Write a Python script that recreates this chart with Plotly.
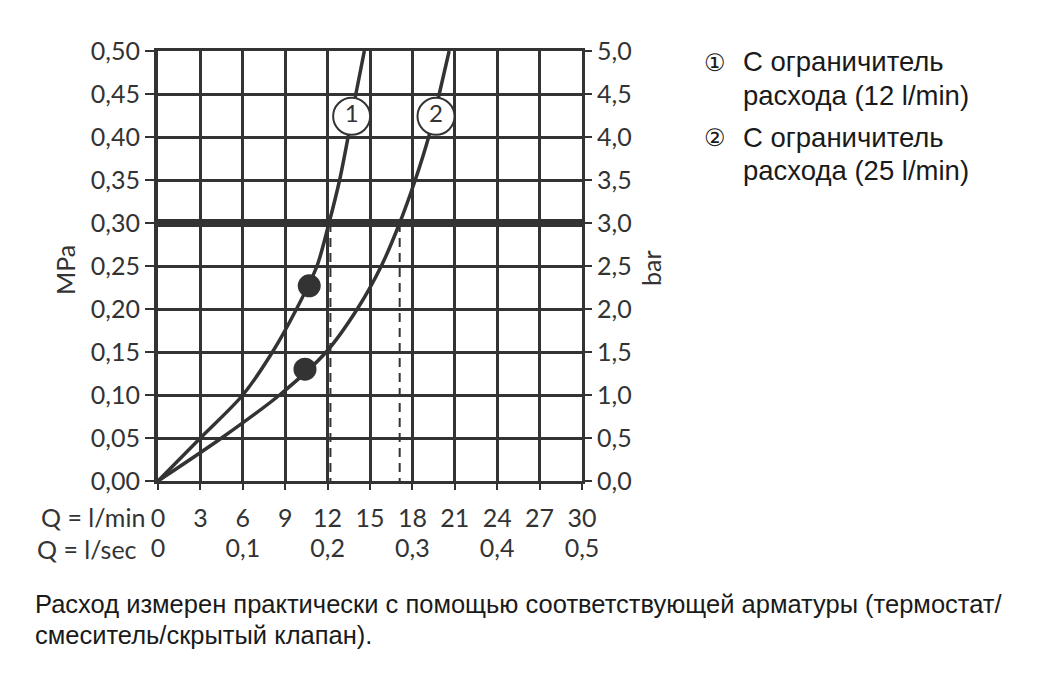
import plotly.graph_objects as go

# Flow rate (l/min) versus flow pressure (MPa) for the two flow limiters
pressure = [0.00, 0.05, 0.10, 0.15, 0.20, 0.25, 0.30, 0.35, 0.40, 0.45, 0.50]
flow_12 = [0.0, 3.0, 6.0, 8.1, 9.8, 11.25, 12.1, 12.85, 13.45, 14.0, 14.6]
flow_25 = [0.0, 4.5, 8.6, 11.9, 14.1, 15.8, 17.1, 18.2, 19.15, 19.9, 20.6]

# Minimum flow pressure points
dot_flow = [10.7, 10.4]
dot_pressure = [0.227, 0.130]

# Curve labels
label_text = ["1", "2"]
label_flow = [13.7, 19.67]
label_pressure = [0.424, 0.424]

# Reference pressure and flow at that pressure
ref_pressure = 0.30
ref_flow = [12.2, 17.1]

# Axis ticks
lmin_vals = [0, 3, 6, 9, 12, 15, 18, 21, 24, 27, 30]
lmin_text = ["0", "3", "6", "9", "12", "15", "18", "21", "24", "27", "30"]
lsec_vals = [0, 0.1, 0.2, 0.3, 0.4, 0.5]
lsec_text = ["0", "0,1", "0,2", "0,3", "0,4", "0,5"]
mpa_vals = [0.00, 0.05, 0.10, 0.15, 0.20, 0.25, 0.30, 0.35, 0.40, 0.45, 0.50]
mpa_text = ["0,00", "0,05", "0,10", "0,15", "0,20", "0,25", "0,30", "0,35", "0,40", "0,45", "0,50"]
bar_vals = [0.0, 0.5, 1.0, 1.5, 2.0, 2.5, 3.0, 3.5, 4.0, 4.5, 5.0]
bar_text = ["0,0", "0,5", "1,0", "1,5", "2,0", "2,5", "3,0", "3,5", "4,0", "4,5", "5,0"]

legend_rows = [
    ("\u2460", "С ограничитель", "расхода (12 l/min)"),
    ("\u2461", "С ограничитель", "расхода (25 l/min)"),
]
footer_lines = [
    "Расход измерен практически с помощью соответствующей арматуры (термостат/",
    "смеситель/скрытый клапан).",
]

W, H = 1059, 675
L, R, T, B = 158, 582, 51, 481
INK = "#333333"
TICK_FONT = dict(family="Lato", size=25, color=INK)
TEXT_FONT = dict(family="Liberation Sans", size=27.5, color="#1a1a1a")


def px(x):
    return (x - L) / (R - L)


def py(y):
    return (B - y) / (B - T)


fig = go.Figure()

# Bold reference line at 0.30 MPa
fig.add_trace(go.Scatter(
    x=[lmin_vals[0], lmin_vals[-1]], y=[ref_pressure, ref_pressure],
    mode="lines", line=dict(color=INK, width=8), hoverinfo="skip"))

# Dashed drops from the reference line to the flow axis
for q in ref_flow:
    fig.add_trace(go.Scatter(
        x=[q, q], y=[ref_pressure, 0], mode="lines",
        line=dict(color=INK, width=2, dash="9px,6px"), hoverinfo="skip"))

for flow in (flow_12, flow_25):
    fig.add_trace(go.Scatter(
        x=flow, y=pressure, mode="lines",
        line=dict(color=INK, width=3.5, shape="spline", smoothing=0.8),
        hoverinfo="skip"))

fig.add_trace(go.Scatter(
    x=dot_flow, y=dot_pressure, mode="markers",
    marker=dict(size=23, color=INK), hoverinfo="skip"))

fig.add_trace(go.Scatter(
    x=label_flow, y=label_pressure, mode="markers+text",
    text=label_text, textposition="middle center",
    textfont=dict(family="Lato", size=24, color=INK),
    marker=dict(size=37, color="white", line=dict(color=INK, width=2)),
    hoverinfo="skip"))

# Secondary axes (bar on the right, l/sec at the bottom)
fig.add_trace(go.Scatter(x=[0], y=[0], xaxis="x2", yaxis="y2",
                         mode="markers", marker=dict(opacity=0),
                         hoverinfo="skip"))

fig.update_layout(
    width=W, height=H,
    margin=dict(l=L, r=W - R, t=T, b=H - B),
    paper_bgcolor="white", plot_bgcolor="white",
    showlegend=False,
    xaxis=dict(
        range=[0, 30], tickvals=lmin_vals, ticktext=lmin_text,
        showgrid=True, gridcolor=INK, gridwidth=2.5,
        showline=True, linecolor=INK, linewidth=3, mirror=True,
        ticks="outside", ticklen=6, tickwidth=2, tickcolor=INK,
        tickfont=TICK_FONT, ticklabelstandoff=7,
        zeroline=False, fixedrange=True,
    ),
    xaxis2=dict(
        range=[0, 0.5], overlaying="x", side="bottom", anchor="y",
        tickvals=lsec_vals, ticktext=lsec_text, showgrid=False,
        showline=False, ticks="", tickfont=TICK_FONT,
        ticklabelstandoff=50, zeroline=False, fixedrange=True,
    ),
    yaxis=dict(
        range=[0, 0.5], tickvals=mpa_vals, ticktext=mpa_text,
        showgrid=True, gridcolor=INK, gridwidth=2.5,
        showline=True, linecolor=INK, linewidth=4,
        ticks="outside", ticklen=9, tickwidth=2, tickcolor=INK,
        tickfont=TICK_FONT, zeroline=False, fixedrange=True,
    ),
    yaxis2=dict(
        range=[0, 5], overlaying="y", side="right", anchor="x",
        tickvals=bar_vals, ticktext=bar_text, showgrid=False,
        showline=True, linecolor=INK, linewidth=3,
        ticks="outside", ticklen=7, tickwidth=2, tickcolor=INK,
        tickfont=TICK_FONT, zeroline=False, fixedrange=True,
    ),
)

ann = []
# Axis titles
ann.append(dict(text="MPa", x=px(65), y=py(270), xref="paper", yref="paper",
                textangle=-90, showarrow=False, font=TICK_FONT,
                xanchor="center", yanchor="middle"))
ann.append(dict(text="bar", x=px(651), y=py(268), xref="paper", yref="paper",
                textangle=-90, showarrow=False, font=TICK_FONT,
                xanchor="center", yanchor="middle"))
ann.append(dict(text="Q = l/min", x=px(147), y=py(517), xref="paper", yref="paper",
                showarrow=False, font=TICK_FONT, xanchor="right", yanchor="middle"))
ann.append(dict(text="Q = l/sec", x=px(139), y=py(549), xref="paper", yref="paper",
                showarrow=False, font=TICK_FONT, xanchor="right", yanchor="middle"))

# Legend block on the right
row_y = [(62, 95), (137, 170)]
for (mark, line1, line2), (y1, y2) in zip(legend_rows, row_y):
    ann.append(dict(text=mark, x=px(715), y=py(y1 + 1), xref="paper", yref="paper",
                    showarrow=False, font=dict(family="DejaVu Sans", size=24, color="#1a1a1a"),
                    xanchor="center", yanchor="middle"))
    ann.append(dict(text=line1, x=px(741), y=py(y1), xref="paper", yref="paper",
                    showarrow=False, font=TEXT_FONT, xanchor="left", yanchor="middle"))
    ann.append(dict(text=line2, x=px(741), y=py(y2), xref="paper", yref="paper",
                    showarrow=False, font=TEXT_FONT, xanchor="left", yanchor="middle"))

# Footnote
for text, y in zip(footer_lines, (604, 635)):
    ann.append(dict(text=text, x=px(33), y=py(y), xref="paper", yref="paper",
                    showarrow=False, font=dict(family="Liberation Sans", size=25.5, color="#1a1a1a"),
                    xanchor="left", yanchor="middle"))

fig.update_layout(annotations=ann)
fig.write_html("out.html")
